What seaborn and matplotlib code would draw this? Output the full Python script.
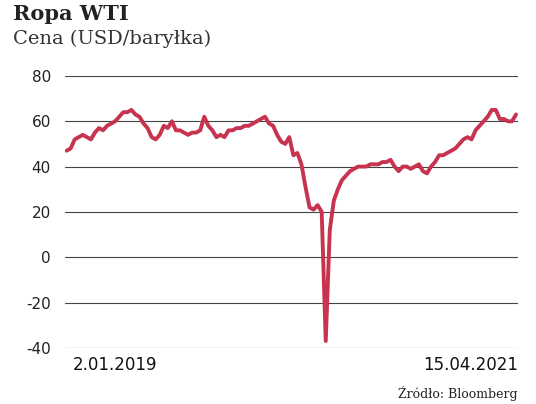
import matplotlib
matplotlib.use("Agg")
import matplotlib.pyplot as plt
import seaborn as sns
import pandas as pd

prices = [47,48,52,53,54, 53,52,55,57, 56,58,59,60, 62,64,64,65, 63,62,59,57,
          53,52,54,58, 57,60,56,56, 55,54,55,55, 56,62,58,56, 53,54,53,56,
          56,57,57,58, 58,59,60,61,
          62,59,58,54, 51,50,53,45, 46,41,31,22, 21,23,20,-37,12, 25,30,34,
          36,38,39,40, 40,40,41,41, 41,42,42,43, 40,38,40,40, 39,40,41,38,
          37,40,42,45, 45,46,47,48,
          50,52,53,52, 56,58,60,62, 65,65,61,61, 60,60,63]
dates = pd.date_range("2019-01-02", periods=len(prices), freq="7D")
yticks = [-40, -20, 0, 20, 40, 60, 80]
df = pd.DataFrame({"date": dates, "price": prices})

sns.set_style("white")
fig = plt.figure(figsize=(5.36, 4.04), dpi=100)
ax = fig.add_axes([0.121, 0.139, 0.845, 0.673])
sns.lineplot(data=df, x="date", y="price", ax=ax, color="#c8334f", linewidth=2.8)
ax.set_ylim(-40, 80)
ax.set_xlim(dates[0] - pd.Timedelta(days=3), dates[-1] + pd.Timedelta(days=3))
ax.set_yticks(yticks)
ax.set_yticklabels([str(v) for v in yticks], fontsize=11, color="#222")
ax.yaxis.grid(True, color="#444", linewidth=0.8)
ax.set_axisbelow(True)
ax.set_xticks([])
ax.set_xlabel(""); ax.set_ylabel("")
for s in ax.spines.values():
    s.set_visible(False)
ax.tick_params(axis="y", length=0, pad=10)

fig.text(0.135, 0.085, "2.01.2019", fontsize=12, color="#111", ha="left")
fig.text(0.966, 0.085, "15.04.2021", fontsize=12, color="#111", ha="right")
fig.text(0.025, 0.95, "Ropa WTI", fontsize=15, fontweight="bold", family="DejaVu Serif", color="#222")
fig.text(0.025, 0.89, "Cena (USD/baryłka)", fontsize=14, family="DejaVu Serif", color="#333")
fig.text(0.966, 0.015, "Źródło: Bloomberg", fontsize=9, family="DejaVu Serif", color="#222", ha="right")
fig.savefig("out.png", dpi=100)
